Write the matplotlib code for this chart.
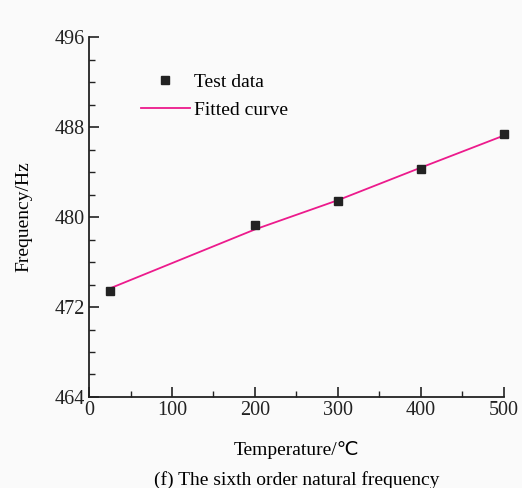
import matplotlib.pyplot as plt
from matplotlib.ticker import MultipleLocator

# Data
temperature = [25, 200, 300, 400, 500]
test_freq = [473.45, 479.3, 481.4, 484.3, 487.4]
fit_freq = [473.65, 478.9, 481.5, 484.4, 487.25]

plt.rcParams['font.family'] = ['Liberation Serif', 'DejaVu Sans']
plt.rcParams['font.size'] = 14

fig = plt.figure(figsize=(5.22, 4.88), dpi=100, facecolor='#fafafa')
ax = fig.add_axes([0.1705, 0.1865, 0.795, 0.7375])
ax.set_facecolor('#fafafa')

ax.plot(temperature, fit_freq, color='#ec1a8c', linewidth=1.3, label='Fitted curve', zorder=2)
ax.plot(temperature, test_freq, linestyle='none', marker='s', markersize=6,
        color='#222222', label='Test data', zorder=3, clip_on=False)

ax.set_xlim(0, 500)
ax.set_ylim(464, 496)
ax.xaxis.set_major_locator(MultipleLocator(100))
ax.xaxis.set_minor_locator(MultipleLocator(50))
ax.yaxis.set_major_locator(MultipleLocator(8))
ax.yaxis.set_minor_locator(MultipleLocator(2))

for side in ['top', 'right']:
    ax.spines[side].set_visible(False)
for side in ['left', 'bottom']:
    ax.spines[side].set_linewidth(1.3)
    ax.spines[side].set_color('#222222')

ax.tick_params(which='major', direction='in', length=7, width=1.2, colors='#222222', labelsize=14.5, pad=3)
ax.tick_params(which='minor', direction='in', length=4, width=1.0, colors='#222222')

ax.set_xlabel('Temperature/℃', fontsize=14, labelpad=15)
ax.set_ylabel('Frequency/Hz', fontsize=14, labelpad=16)

handles, labels = ax.get_legend_handles_labels()
ax.legend(handles[::-1], labels[::-1], loc='upper left', bbox_to_anchor=(0.083, 0.947),
          frameon=False, fontsize=14, handlelength=2.5, handletextpad=0.25, labelspacing=0.5)

# caption centred under the axes
fig.text(0.568, 0.006, '(f) The sixth order natural frequency', ha='center', va='baseline', fontsize=14)

fig.savefig('out.png', dpi=100, facecolor=fig.get_facecolor())
